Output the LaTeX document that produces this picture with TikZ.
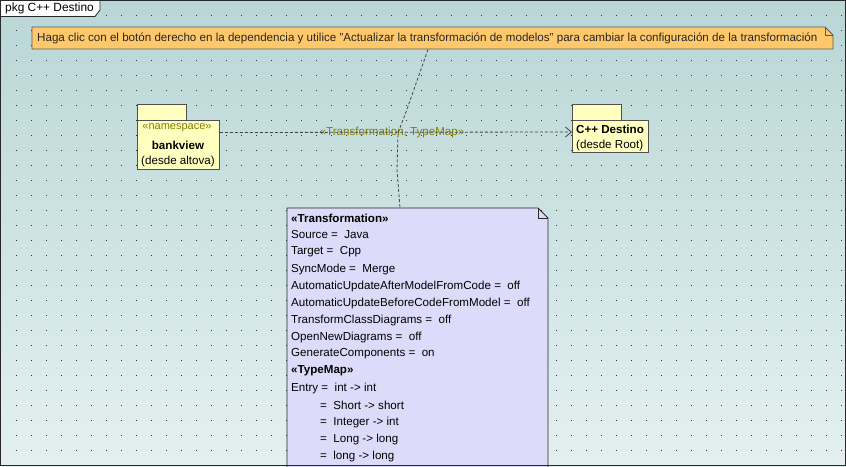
\documentclass[tikz,border=0pt]{standalone}
\usepackage{fontspec}
\setmainfont{Liberation Sans}
\usetikzlibrary{arrows.meta}
\definecolor{bgtop}{RGB}{185,214,214}
\definecolor{bgbot}{RGB}{228,240,240}
\definecolor{framec}{RGB}{40,40,40}
\definecolor{hintfill}{RGB}{255,200,106}
\definecolor{hintdraw}{RGB}{90,90,90}
\definecolor{pkgfill}{RGB}{255,255,192}
\definecolor{pkgdraw}{RGB}{80,80,80}
\definecolor{olivetxt}{RGB}{128,128,0}
\definecolor{notefill}{RGB}{220,220,250}
\definecolor{linkc}{RGB}{70,70,70}
\tikzset{
  txt/.style={inner sep=0pt, font=\fontsize{11.6}{13}\selectfont, text=black},
  btxt/.style={txt, font=\fontsize{11.6}{13}\selectfont\bfseries},
  pkgbox/.style={draw=pkgdraw, fill=pkgfill, line width=0.9pt},
  depline/.style={draw=linkc, line width=0.8pt, dash pattern=on 3pt off 2pt},
  linkline/.style={draw=linkc, line width=0.8pt, dash pattern=on 3pt off 2pt},
}
\begin{document}
\begin{tikzpicture}[x=1pt,y=-1pt]
\useasboundingbox (0,0) rectangle (846,466);
\shade[top color=bgtop, bottom color=bgbot] (0,0) rectangle (846,466);
% dot grid
\foreach \i in {0,...,55} {
  \foreach \j in {1,...,31} {
    \fill[black!80] ({16+15*\i-0.45},{15*\j-0.45}) rectangle ({16+15*\i+0.45},{15*\j+0.45});
  }
}
\begin{scope}
\clip (0,0) rectangle (846,466);
% hint note
\filldraw[fill=hintfill, draw=hintdraw, line width=0.9pt]
  (32,27) -- (825,27) -- (833,35) -- (833,49) -- (32,49) -- cycle;
\draw[hintdraw, line width=0.8pt] (825,27) -- (825,35) -- (833,35);
\node[txt, anchor=west, text=black!85] (hint) at (37,38)
  {Haga clic con el botón derecho en la dependencia y utilice "Actualizar la transformación de modelos" para cambiar la configuración de la transformación};
% packages
\draw[pkgbox] (137,104) rectangle (186,120);
\node[pkgbox, minimum width=82pt, minimum height=49pt, anchor=north west, inner sep=0pt] (bank) at (137,120) {};
\node[txt, text=olivetxt, font=\fontsize{11}{13}\selectfont] (bankst) at (177,128) {«namespace»};
\node[btxt] (bankname) at (178,145) {bankview};
\node[txt] (bankfrom) at (178,161) {(desde altova)};
\draw[pkgbox] (572,104) rectangle (621,120);
\node[pkgbox, minimum width=76pt, minimum height=32pt, anchor=north west, inner sep=0pt] (dest) at (572,120) {};
\node[btxt, anchor=west] (destname) at (576,129) {C++ Destino};
\node[txt, anchor=west] (destfrom) at (576,145) {(desde Root)};
% dependency
\node[txt, text=olivetxt] (deplabel) at (392,132) {«Transformation, TypeMap»};
\draw[depline, -{Straight Barb[length=6pt,width=10pt,line width=0.8pt]}]
  ([yshift=-12.5pt]bank.north east) -- ([yshift=-12pt]dest.north west);
% transformation note
\filldraw[fill=notefill, draw=framec, line width=0.9pt]
  (287,208) -- (538,208) -- (548,218) -- (548,475) -- (287,475) -- cycle;
\draw[framec, line width=0.8pt] (538,208) -- (538,218) -- (548,218);
\coordinate (hintfoot) at (428,49.5);
\coordinate (depmid) at (398,133);
\coordinate (transtop) at (400,207.5);
\draw[linkline] (hintfoot) -- (406,112) -- (depmid) -- (397,170) -- (transtop);
\node[btxt, anchor=west] (t1) at (291,218) {«Transformation»};
\node[txt, anchor=west] (t2) at (291,235) {Source = ~Java};
\node[txt, anchor=west] (t3) at (291,252) {Target = ~Cpp};
\node[txt, anchor=west] (t4) at (291,269) {SyncMode = ~Merge};
\node[txt, anchor=west] (t5) at (291,286) {AutomaticUpdateAfterModelFromCode = ~off};
\node[txt, anchor=west] (t6) at (291,303) {AutomaticUpdateBeforeCodeFromModel = ~off};
\node[txt, anchor=west] (t7) at (291,320) {TransformClassDiagrams = ~off};
\node[txt, anchor=west] (t8) at (291,337) {OpenNewDiagrams = ~off};
\node[txt, anchor=west] (t9) at (291,354) {GenerateComponents = ~on};
\node[btxt, anchor=west] (t10) at (291,371) {«TypeMap»};
\node[txt, anchor=west] (t11) at (291,388) {Entry = ~int -> int};
\node[txt, anchor=west] (t12) at (320,405) {= ~Short -> short};
\node[txt, anchor=west] (t13) at (320,422) {= ~Integer -> int};
\node[txt, anchor=west] (t14) at (320,439) {= ~Long -> long};
\node[txt, anchor=west] (t15) at (320,456) {= ~long -> long};
\end{scope}
% frame and tab
\draw[framec, line width=1pt] (0.5,0.5) rectangle (845.5,465.5);
\filldraw[fill=white, draw=framec, line width=0.8pt] (0.5,0.5) -- (100,0.5) -- (100,10) -- (95,16.5) -- (0.5,16.5) -- cycle;
\node[txt, anchor=west, font=\fontsize{11.9}{13}\selectfont] (tab) at (5,8.5) {pkg C++ Destino};
\end{tikzpicture}
\end{document}
